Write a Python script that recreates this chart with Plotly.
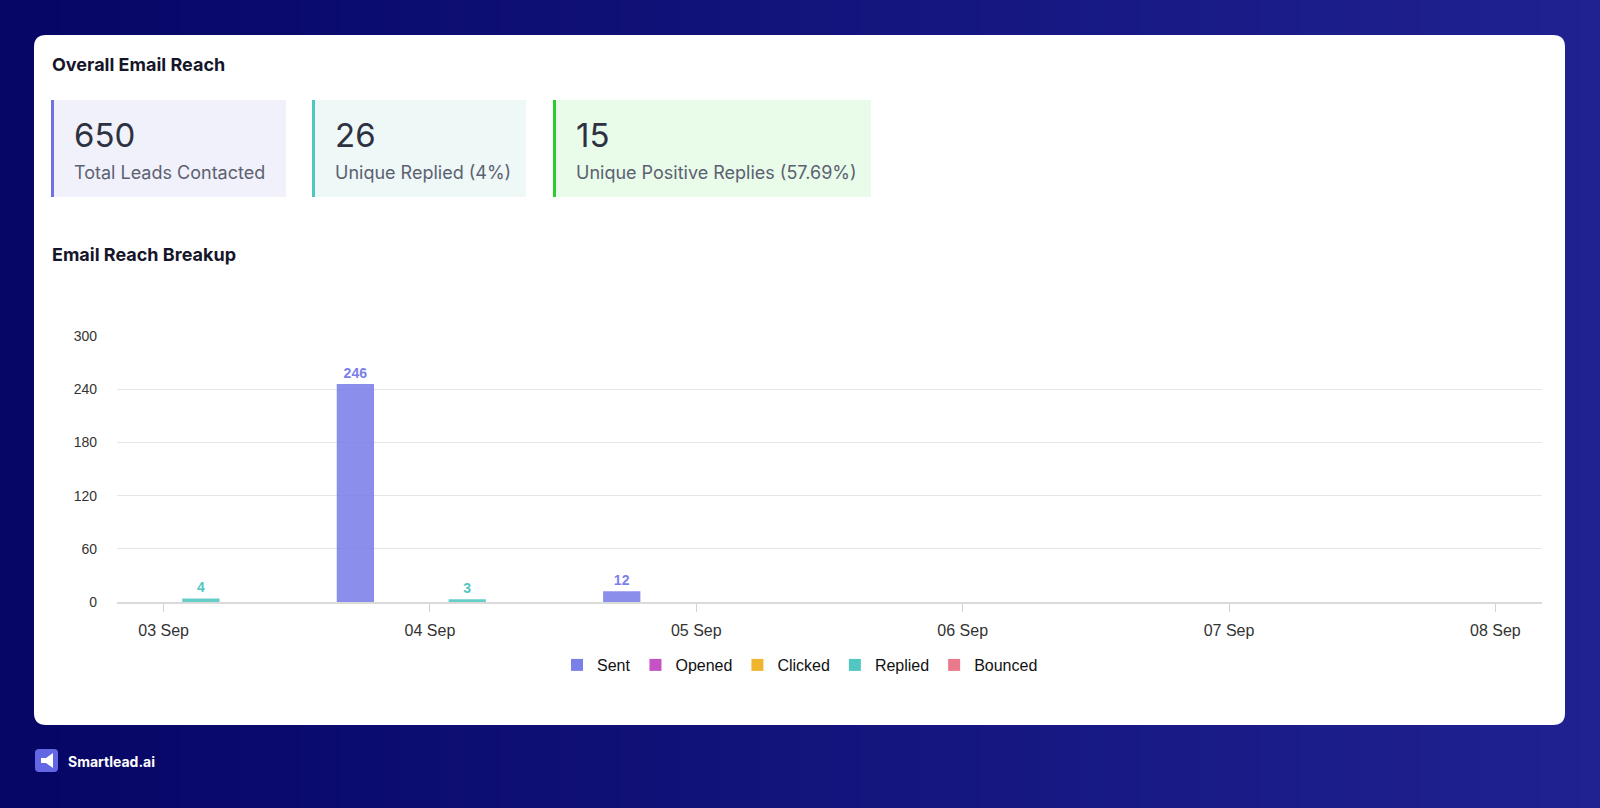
import plotly.graph_objects as go

W, H = 1600, 808

# data
days = ["2023-09-03", "2023-09-04", "2023-09-05", "2023-09-06", "2023-09-07", "2023-09-08"]
series_names = ["Sent", "Opened", "Clicked", "Replied", "Bounced"]
sent = [0, 246, 12, 0, 0, 0]
opened = [0, 0, 0, 0, 0, 0]
clicked = [0, 0, 0, 0, 0, 0]
replied = [4, 3, 0, 0, 0, 0]
bounced = [0, 0, 0, 0, 0, 0]
series_values = [sent, opened, clicked, replied, bounced]
series_colors = ["#7b7fe8", "#c653c6", "#f0b52f", "#52c6c1", "#e97a8b"]

stat_values = ["650", "26", "15"]
stat_labels = ["Total Leads Contacted", "Unique Replied (4%)", "Unique Positive Replies (57.69%)"]
stat_bg = ["#f0f1fa", "#eef8f7", "#e9fbe9"]
stat_border = ["#6f73e2", "#4fc7c0", "#2ccc2c"]
stat_x = [(51, 286), (312, 526), (553, 871)]

AXIS_FONT = "Liberation Sans, Arial, sans-serif"
UI_FONT = "Inter, Lato, sans-serif"


def px(x):
    return x / W


def py(y):
    return 1 - y / H


def rrect(x0, y0, x1, y1, r):
    rx, ry = r / W, r / H
    X0, X1, B, T = px(x0), px(x1), py(y1), py(y0)
    return (f"M {X0 + rx},{B} L {X1 - rx},{B} Q {X1},{B} {X1},{B + ry} "
            f"L {X1},{T - ry} Q {X1},{T} {X1 - rx},{T} L {X0 + rx},{T} "
            f"Q {X0},{T} {X0},{T - ry} L {X0},{B + ry} Q {X0},{B} {X0 + rx},{B} Z")


fig = go.Figure()

for name, vals, col in zip(series_names, series_values, series_colors):
    fig.add_trace(go.Bar(
        x=days, y=vals, name=name,
        marker=dict(color=col, opacity=0.88, line=dict(width=0)),
        text=[str(v) if v else "" for v in vals],
        textposition="outside",
        textfont=dict(family=AXIS_FONT, size=14, color=col, weight="bold"),
        cliponaxis=False,
    ))

shapes = []
# background gradient strips
n = 80
c0, c1 = (6, 6, 102), (32, 34, 146)
for i in range(n):
    t = i / (n - 1)
    c = tuple(int(c0[k] + (c1[k] - c0[k]) * t) for k in range(3))
    shapes.append(dict(type="rect", xref="paper", yref="paper",
                       x0=i / n, x1=min(1, (i + 1) / n + 0.002), y0=0, y1=1,
                       fillcolor=f"rgb{c}", line_width=0, layer="below"))

# white card
shapes.append(dict(type="path", xref="paper", yref="paper", path=rrect(34, 35, 1565, 725, 12),
                   fillcolor="white", line_width=0, layer="below"))

# stat boxes
for (x0, x1), bg, bc in zip(stat_x, stat_bg, stat_border):
    shapes.append(dict(type="rect", xref="paper", yref="paper", x0=px(x0), x1=px(x1),
                       y0=py(197), y1=py(100), fillcolor=bg, line_width=0, layer="below"))
    shapes.append(dict(type="rect", xref="paper", yref="paper", x0=px(x0), x1=px(x0 + 3),
                       y0=py(197), y1=py(100), fillcolor=bc, line_width=0, layer="below"))

# logo square
shapes.append(dict(type="path", xref="paper", yref="paper", path=rrect(35, 749, 58, 772, 4),
                   fillcolor="#6367e4", line_width=0, layer="above"))
shapes.append(dict(type="path", xref="paper", yref="paper",
                   path=f"M {px(41)},{py(758)} L {px(46)},{py(758)} L {px(53)},{py(753)} L {px(53)},{py(768)} "
                        f"L {px(46)},{py(763)} L {px(41)},{py(763)} Z",
                   fillcolor="white", line_width=0, layer="above"))

annotations = [
    dict(text="<b>Overall Email Reach</b>", x=px(50), y=py(65), xanchor="left", yanchor="middle",
         font=dict(family=UI_FONT, size=18, color="#16162a")),
    dict(text="<b>Email Reach Breakup</b>", x=px(50), y=py(255), xanchor="left", yanchor="middle",
         font=dict(family=UI_FONT, size=18, color="#16162a")),
    dict(text="<b>Smartlead.ai</b>", x=px(66), y=py(761), xanchor="left", yanchor="middle",
         font=dict(family=UI_FONT, size=14, color="white")),
]
for (x0, x1), v, lab in zip(stat_x, stat_values, stat_labels):
    annotations.append(dict(text=v, x=px(x0 + 21), y=py(135), xanchor="left", yanchor="middle",
                            font=dict(family=UI_FONT, size=33, color="#2d3142")))
    annotations.append(dict(text=lab, x=px(x0 + 21), y=py(173), xanchor="left", yanchor="middle",
                            font=dict(family=UI_FONT, size=18, color="#5c6172")))
for a in annotations:
    a.update(xref="paper", yref="paper", showarrow=False)

fig.update_layout(
    width=W, height=H,
    margin=dict(l=0, r=0, t=0, b=0, autoexpand=False),
    paper_bgcolor="rgb(6,6,102)",
    plot_bgcolor="rgba(0,0,0,0)",
    barmode="group", bargap=0.3, bargroupgap=0,
    shapes=shapes, annotations=annotations,
    showlegend=True,
    legend=dict(orientation="h", x=0.5, xanchor="center", y=py(665), yanchor="middle",
                font=dict(family=AXIS_FONT, size=16, color="#111111"),
                bgcolor="rgba(0,0,0,0)", itemclick=False),
    xaxis=dict(
        type="date", domain=[px(117), px(1542)], automargin=False,
        range=["2023-09-02 19:48", "2023-09-08 04:12"],
        tickvals=days, tickformat="%d %b",
        ticks="outside", ticklen=8, tickcolor="#d4d4d4", tickwidth=1,
        showgrid=False, showline=True, linecolor="#dadada", linewidth=2,
        tickfont=dict(family=AXIS_FONT, size=16, color="#333333"),
        ticklabelstandoff=5,
    ),
    yaxis=dict(
        domain=[py(602), py(336)], range=[0, 300], dtick=60, automargin=False,
        showgrid=True, gridcolor="#e6e6e6", gridwidth=1, zeroline=False,
        tickfont=dict(family=AXIS_FONT, size=14, color="#333333"),
        ticklabelstandoff=19,
    ),
    hovermode=False,
)

fig.write_html("out.html", config={"displayModeBar": False},
               post_script="document.body.style.margin='0';document.body.style.overflow='hidden';")
